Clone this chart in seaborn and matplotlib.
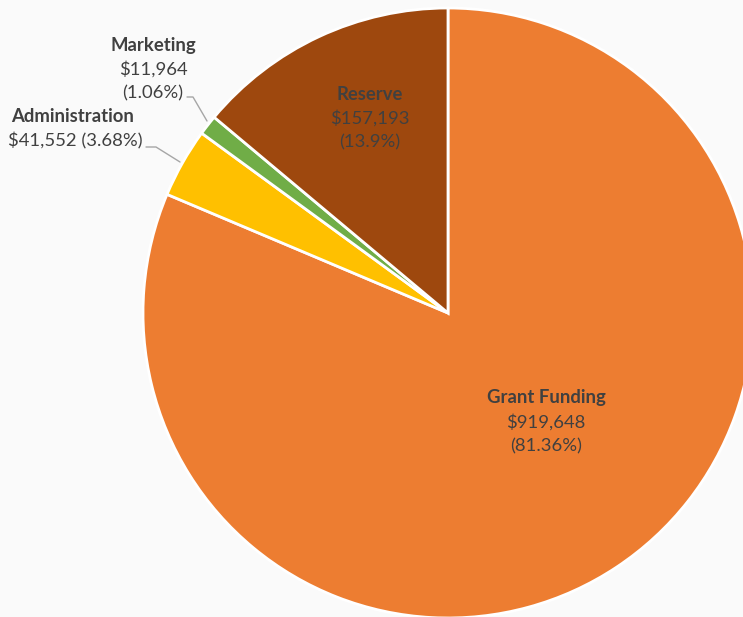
import matplotlib
matplotlib.use("Agg")
import matplotlib.pyplot as plt
import seaborn as sns

sns.set_theme(style="white")
plt.rcParams['font.family'] = ['Lato', 'DejaVu Sans']

categories = ["Grant Funding", "Administration", "Marketing", "Reserve"]
values = [919648, 41552, 11964, 157193]
percents = ["81.36%", "3.68%", "1.06%", "13.9%"]
colors = ["#ED7D31", "#FFC000", "#70AD47", "#9E480E"]

W, H = 743, 617
fig = plt.figure(figsize=(W / 100, H / 100), dpi=100, facecolor="#FAFAFA")
ax = fig.add_axes([0, 0, 1, 1])
ax.set_facecolor("#FAFAFA")

cx, cy, r = 448, H - 313, 305
ax.pie(values, colors=colors, startangle=90, counterclock=False,
       center=(cx, cy), radius=r, frame=True,
       wedgeprops=dict(edgecolor="white", linewidth=2))
ax.set_xlim(0, W)
ax.set_ylim(0, H)
ax.set_aspect("equal")
ax.axis("off")

tc = "#404040"
fs = 13.3

def lab(x, y, name, lines):
    ax.text(x, H - y, name, ha="center", va="center", fontsize=fs,
            fontweight="bold", color=tc)
    for i, l in enumerate(lines):
        ax.text(x, H - (y + 24 * (i + 1)), l, ha="center", va="center",
                fontsize=fs, color=tc)

vals = [f"${v:,}" for v in values]
lab(546, 398, categories[0], [vals[0], f"({percents[0]})"])
lab(370, 94, categories[3], [vals[3], f"({percents[3]})"])
lab(153, 45, categories[2], [vals[2], f"({percents[2]})"])
ax.text(73, H - 117, categories[1], ha="center", va="center", fontsize=fs,
        fontweight="bold", color=tc)
ax.text(75, H - 141, f"{vals[1]} ({percents[1]})", ha="center", va="center",
        fontsize=fs, color=tc)

lc = "#A6A6A6"
ax.plot([187, 193, 207], [H - 97, H - 97, H - 121], color=lc, lw=1)
ax.plot([146, 156, 180], [H - 147, H - 147, H - 162], color=lc, lw=1)

fig.savefig("out.png", dpi=100, facecolor=fig.get_facecolor())
